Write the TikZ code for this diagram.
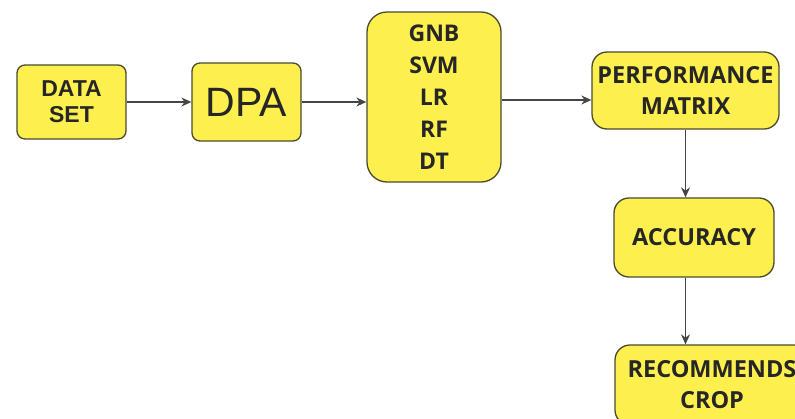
\documentclass[tikz,border=0pt]{standalone}
\usepackage{fontspec}
\setmainfont{Open Sans}
\newfontfamily\arialfont{Liberation Sans}
\usetikzlibrary{arrows.meta}
\definecolor{boxfill}{HTML}{FDF04E}
\definecolor{boxline}{HTML}{4A4A30}
\definecolor{arrowc}{HTML}{454545}
\begin{document}
\begin{tikzpicture}[x=1pt,y=-1pt,
  box/.style={draw=boxline, line width=1.3pt, fill=boxfill, rounded corners=8pt, align=center, inner sep=0pt, text=black!85,
    font=\bfseries\fontsize{23.5}{31}\selectfont},
  arr/.style={draw=arrowc, line width=1.3pt, -{Stealth[length=10pt,width=9pt]}}]
\useasboundingbox (0,0) rectangle (795,418);
\clip (0,0) rectangle (795,418);
\node[box, minimum width=109pt, minimum height=74pt, font=\arialfont\bfseries\fontsize{23}{26}\selectfont] (data) at (71.5,102) {DATA\\SET};
\node[box, minimum width=109pt, minimum height=78pt, font=\arialfont\fontsize{41}{45}\selectfont] (dpa) at (246.5,102) {DPA};
\node[box, minimum width=134pt, minimum height=170pt, rounded corners=20pt, font=\bfseries\fontsize{23}{32}\selectfont] (algo) at (434,97) {GNB\\SVM\\LR\\RF\\DT};
\node[box, minimum width=187pt, minimum height=77pt, rounded corners=15pt] (perf) at (685.5,90.5) {PERFORMANCE\\MATRIX};
\node[box, minimum width=160pt, minimum height=79pt, rounded corners=15pt] (acc) at (694,237.5) {ACCURACY};
\node[box, minimum width=194pt, minimum height=80pt, rounded corners=15pt] (rec) at (712,385) {RECOMMENDS\\CROP};
\coordinate (mid) at (0,100);
\draw[arr] (data.east) -- (dpa.west);
\draw[arr] (dpa.east) -- (dpa.east -| algo.west);
\draw[arr] (algo.east |- mid) -- (perf.west |- mid);
\draw[arr] (perf.south) -- (perf.south |- acc.north);
\draw[arr] (perf.south |- acc.south) -- (perf.south |- rec.north);
\end{tikzpicture}
\end{document}
